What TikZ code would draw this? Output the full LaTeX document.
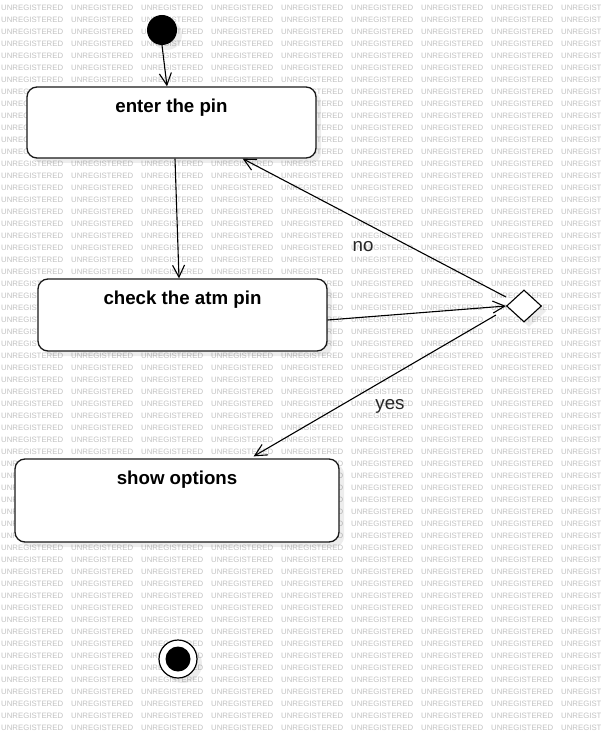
\documentclass[tikz,border=0pt]{standalone}
\usepackage{fontspec}
\setmainfont{Liberation Sans}
\usetikzlibrary{shapes.geometric,arrows.meta,calc,shadows}
\begin{document}
\begin{tikzpicture}[x=1pt,y=-1pt,
  wm/.style={text=black!24, font=\fontsize{7.8}{8}\selectfont, inner sep=0pt, anchor=west},
  shd/.style={drop shadow={shadow xshift=5pt, shadow yshift=-5pt, fill=black, opacity=0.07}},
  statebox/.style={draw=black!90, line width=1.3pt, rounded corners=10pt, fill=white, shd, inner sep=0pt},
  title/.style={font=\bfseries\fontsize{18.7}{22}\selectfont, anchor=base, inner sep=0pt},
  lbl/.style={font=\fontsize{18.7}{22}\selectfont, text=black!85, inner sep=0pt},
  conn/.style={line width=1.1pt, -{Straight Barb[length=12pt,width=12pt,line width=1.1pt]}},
  decision/.style={diamond, draw=black, line width=1.1pt, fill=white, minimum width=35pt, minimum height=32pt, inner sep=0pt, shd}
]
\useasboundingbox (0,0) rectangle (601,738);
\fill[white] (0,0) rectangle (601,738);
% watermark (cells hidden entirely under a state box are left out)
\foreach \r in {0,...,60} {
  \foreach \c in {0,...,8} {
    \pgfmathtruncatemacro\hide{
      ((\c*70+1>26) && (\c*70+63<317) && (\r*12+4>86) && (\r*12+12<159)) ||
      ((\c*70+1>37) && (\c*70+63<328) && (\r*12+4>278) && (\r*12+12<352)) ||
      ((\c*70+1>14) && (\c*70+63<340) && (\r*12+4>458) && (\r*12+12<543)) ? 1 : 0}
    \ifnum\hide=0
      \node[wm] (wm-\r-\c) at (\c*70+1, \r*12+8) {UNREGISTERED};
    \fi
  }
}
% initial state
\node[circle, fill=black, minimum size=30pt, inner sep=0pt, shd] (init) at (162,30) {};
% states
\node[statebox, minimum width=289pt, minimum height=71pt] (enter) at (171.5,122.5) {};
\node[title] (entert) at ($(enter.north)+(0,26)$) {enter the pin};
\node[statebox, minimum width=289pt, minimum height=72pt] (check) at (182.5,315) {};
\node[title] (checkt) at ($(check.north)+(0,26)$) {check the atm pin};
\node[statebox, minimum width=324pt, minimum height=83pt] (show) at (177,500.5) {};
\node[title] (showt) at ($(show.north)+(0,26)$) {show options};
% decision
\node[decision] (dec) at (524,306) {};
% final state
\node[circle, draw=black, line width=1.2pt, fill=white, minimum size=38pt, inner sep=0pt, shd] (final) at (178,659) {};
\node[circle, fill=black, minimum size=25pt, inner sep=0pt] (finalin) at (final.center) {};
% connectors
\draw[conn] (init.south) -- ([xshift=-4.5pt]enter.north);
\draw[conn] ([xshift=3.5pt]enter.south) -- ([xshift=-3.5pt]check.north);
\draw[conn] ([yshift=-5pt]check.east) -- (dec.west);
\draw[conn] ($(dec.west)+(0,-9)$) -- ($(enter.south east)+(-74,0)$);
\draw[conn] ($(dec.west)+(-10,9)$) -- ($(show.north east)+(-86,-2)$);
% labels
\node[lbl] (no) at (363,247) {no};
\node[lbl] (yes) at (390,406) {yes};
\end{tikzpicture}
\end{document}
